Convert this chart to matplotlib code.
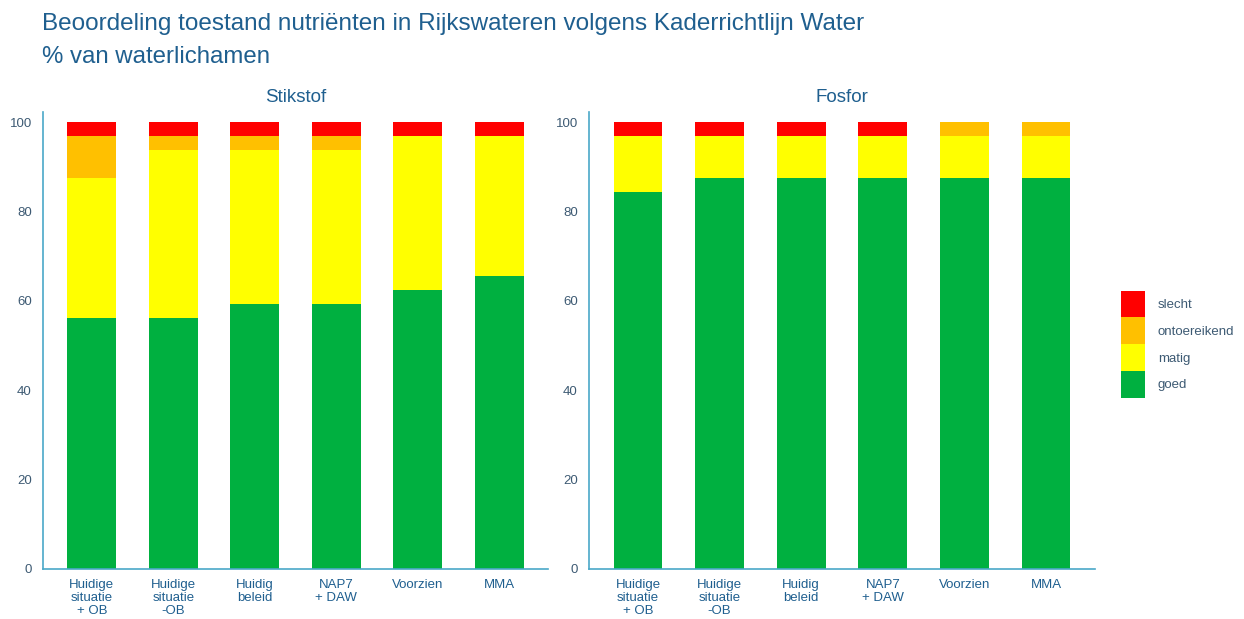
import numpy as np
import matplotlib.pyplot as plt
from matplotlib.patches import Patch

plt.rcParams['font.family'] = ['Liberation Sans', 'DejaVu Sans']

categories = ['Huidige\nsituatie\n+ OB', 'Huidige\nsituatie\n-OB', 'Huidig\nbeleid',
              'NAP7\n+ DAW', 'Voorzien', 'MMA']
klassen = ['goed', 'matig', 'ontoereikend', 'slecht']
kleuren = ['#00B040', '#FFFF00', '#FFC000', '#FF0000']

# % van waterlichamen per klasse
stikstof_goed = [56.25, 56.25, 59.375, 59.375, 62.5, 65.625]
stikstof_matig = [31.25, 37.5, 34.375, 34.375, 34.375, 31.25]
stikstof_ontoereikend = [9.375, 3.125, 3.125, 3.125, 0, 0]
stikstof_slecht = [3.125, 3.125, 3.125, 3.125, 3.125, 3.125]

fosfor_goed = [84.375, 87.5, 87.5, 87.5, 87.5, 87.5]
fosfor_matig = [12.5, 9.375, 9.375, 9.375, 9.375, 9.375]
fosfor_ontoereikend = [0, 0, 0, 0, 3.125, 3.125]
fosfor_slecht = [3.125, 3.125, 3.125, 3.125, 0, 0]

titel_kleur = '#1f5f8f'
as_kleur = '#4aa8c8'
tekst_kleur = '#3d5a73'

fig = plt.figure(figsize=(12.44, 6.19), dpi=100)
ax1 = fig.add_axes([0.0346, 0.0808, 0.4059, 0.7383])
ax2 = fig.add_axes([0.4735, 0.0808, 0.4067, 0.7383])


def panel(ax, reeksen, titel):
    x = np.arange(len(categories))
    bottom = np.zeros(len(categories))
    for vals, kleur in zip(reeksen, kleuren):
        ax.bar(x, vals, width=0.6, bottom=bottom, color=kleur, linewidth=0)
        bottom += np.array(vals)
    ax.set_xlim(-0.6, 5.6)
    ax.set_ylim(0, 102.3)
    ax.set_yticks([0, 20, 40, 60, 80, 100])
    ax.set_xticks(x)
    ax.set_xticklabels(categories, fontsize=9.5, color=titel_kleur, linespacing=1.1)
    ax.tick_params(axis='y', length=0, labelsize=9.5, labelcolor=tekst_kleur, pad=8)
    ax.tick_params(axis='x', length=0, pad=7)
    for s in ['top', 'right']:
        ax.spines[s].set_visible(False)
    for s in ['left', 'bottom']:
        ax.spines[s].set_color(as_kleur)
        ax.spines[s].set_linewidth(1.2)
    ax.set_title(titel, fontsize=13.5, color=titel_kleur, pad=7)


panel(ax1, [stikstof_goed, stikstof_matig, stikstof_ontoereikend, stikstof_slecht], 'Stikstof')
panel(ax2, [fosfor_goed, fosfor_matig, fosfor_ontoereikend, fosfor_slecht], 'Fosfor')

fig.text(0.034, 0.962, 'Beoordeling toestand nutriënten in Rijkswateren volgens Kaderrichtlijn Water',
         fontsize=17.5, color=titel_kleur, va='center')
fig.text(0.034, 0.908, '% van waterlichamen', fontsize=17.3, color=titel_kleur, va='center')

handles = [Patch(facecolor=k, edgecolor='none') for k in kleuren[::-1]]
fig.legend(handles, klassen[::-1], loc='center left', bbox_to_anchor=(0.896, 0.444),
           frameon=False, fontsize=9.5, handlelength=1.82, handleheight=2.75,
           labelspacing=0.0, handletextpad=0.95, labelcolor=tekst_kleur, borderpad=0)

fig.savefig('out.png', dpi=100)
